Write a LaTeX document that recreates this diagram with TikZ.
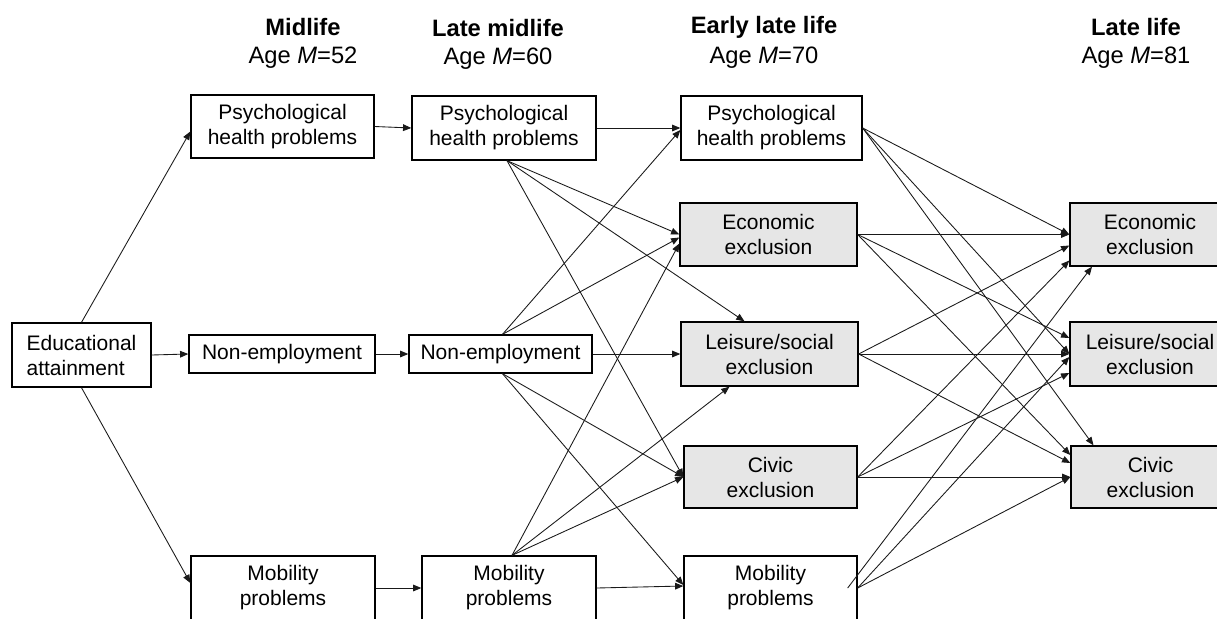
\documentclass[tikz,border=0pt]{standalone}
\usepackage{fontspec}
\setmainfont{Liberation Sans}
\usetikzlibrary{arrows.meta,calc}
\definecolor{boxgray}{RGB}{230,230,230}
\newcommand\boxfont{\fontsize{15.75}{18.75}\selectfont}
\newcommand\hdrfont{\fontsize{17.8}{21}\selectfont}
\begin{document}
\begin{tikzpicture}[x=0.75pt,y=-0.75pt,
  box/.style={draw=black, line width=1pt, fill=white, inner sep=0pt, align=center, font=\boxfont},
  gbox/.style={box, fill=boxgray},
  hdr/.style={inner sep=0pt, font=\hdrfont},
  conn/.style={draw=black!90, line width=0.65pt, -{Triangle[length=6.2pt,width=5pt]}}]
\useasboundingbox (0,0) rectangle (1217,618);
\clip (0,0) rectangle (1217,618);
\fill[white] (0,0) rectangle (1217,618);

% headers
\node[hdr] (h1) at (303,27) {\bfseries Midlife};
\node[hdr] (a1) at (303,58) {Age \textit{M}=52};
\node[hdr] (h2) at (498,28) {\bfseries Late midlife};
\node[hdr] (a2) at (498,59) {Age \textit{M}=60};
\node[hdr] (h3) at (764,27) {\bfseries Early late life};
\node[hdr] (a3) at (764,58) {Age \textit{M}=70};
\node[hdr] (h4) at (1136,27) {\bfseries Late life};
\node[hdr] (a4) at (1136,58) {Age \textit{M}=81};

% column 0
\node[box, align=left, minimum width=104.25pt, minimum height=48pt] (ea) at (81.5,355) {Educational\\attainment};
% column 1
\node[box, minimum width=137.25pt, minimum height=47.25pt] (psych1) at (282.5,126.5) {Psychological\\health problems};
\node[box, minimum width=139.5pt, minimum height=28.5pt] (ne1) at (282,354) {Non-employment};
\node[box, minimum width=138pt, minimum height=48pt] (mob1) at (283,588) {Mobility\\problems};
% column 2
\node[box, minimum width=138pt, minimum height=48pt] (psych2) at (504,128) {Psychological\\health problems};
\node[box, minimum width=137.25pt, minimum height=28.5pt] (ne2) at (500.5,354) {Non-employment};
\node[box, minimum width=130.5pt, minimum height=48pt] (mob2) at (509,588) {Mobility\\problems};
% column 3
\node[box, minimum width=135.75pt, minimum height=48pt] (psych3) at (771.5,128) {Psychological\\health problems};
\node[gbox, minimum width=132.75pt, minimum height=47.25pt] (econ3) at (768.5,234.5) {Economic\\exclusion};
\node[gbox, minimum width=132.75pt, minimum height=48pt] (leis3) at (769.5,354) {Leisure/social\\exclusion};
\node[gbox, minimum width=129.75pt, minimum height=46.5pt] (civic3) at (770.5,477) {Civic\\exclusion};
\node[box, minimum width=129.75pt, minimum height=48pt] (mob3) at (770.5,588) {Mobility\\problems};
% column 4
\node[gbox, minimum width=120pt, minimum height=47.25pt] (econ4) at (1150,234.5) {Economic\\exclusion};
\node[gbox, minimum width=120pt, minimum height=48pt] (leis4) at (1150,354) {Leisure/social\\exclusion};
\node[gbox, minimum width=119.25pt, minimum height=46.5pt] (civic4) at (1150.5,477) {Civic\\exclusion};

% helper points
\coordinate (p2s) at ($(psych2.south)+(3,0)$);
\coordinate (n2n) at ($(ne2.north)+(2,0)$);
\coordinate (n2s) at ($(ne2.south)+(2,0)$);
\coordinate (m2n) at ($(mob2.north)+(3,0)$);
\coordinate (m3in) at ($(mob3.east)+(-10,0)$);

% column 0 -> 1
\draw[conn] (ea.north) -- ($(psych1.west)+(0,5)$);
\draw[conn] (ea.east) -- (ne1.west);
\draw[conn] (ea.south) -- ($(mob1.west)+(0,-5)$);
% column 1 -> 2
\draw[conn] (psych1.east) -- (psych2.west);
\draw[conn] (ne1.east) -- (ne2.west);
\draw[conn] (mob1.east) -- (mob2.west);
% column 2 -> 3
\draw[conn] (psych2.east) -- (psych3.west);
\draw[conn] (p2s) -- (econ3.west);
\draw[conn] (p2s) -- ($(leis3.north)+(-25,0)$);
\draw[conn] (p2s) -- (civic3.west);
\draw[conn] (n2n) -- ($(psych3.west)+(0,2)$);
\draw[conn] (n2n) -- ($(econ3.west)+(0,3)$);
\draw[conn] (ne2.east) -- (leis3.west);
\draw[conn] (n2s) -- (civic3.west);
\draw[conn] (n2s) -- ($(mob3.west)+(0,-3)$);
\draw[conn] (m2n) -- ($(econ3.west)+(0,9)$);
\draw[conn] (m2n) -- ($(leis3.south)+(-40,0)$);
\draw[conn] (m2n) -- (civic3.west);
\draw[conn] (mob2.east) -- ($(mob3.west)+(0,-2)$);
% column 3 -> 4
\draw[conn] (psych3.east) -- (econ4.west);
\draw[conn] (psych3.east) -- (leis4.west);
\draw[conn] (psych3.east) -- ($(civic4.north)+(-57,0)$);
\draw[conn] (econ3.east) -- (econ4.west);
\draw[conn] (econ3.east) -- ($(leis4.west)+(0,-16)$);
\draw[conn] (econ3.east) -- ($(civic4.west)+(0,-22)$);
\draw[conn] (leis3.east) -- ($(econ4.west)+(0,11)$);
\draw[conn] (leis3.east) -- (leis4.west);
\draw[conn] (leis3.east) -- ($(civic4.west)+(0,-14)$);
\draw[conn] (civic3.east) -- ($(econ4.west)+(0,26)$);
\draw[conn] (civic3.east) -- ($(leis4.west)+(0,19)$);
\draw[conn] (civic3.east) -- (civic4.west);
\draw[conn] (mob3.east) -- ($(leis4.west)+(0,3)$);
\draw[conn] (mob3.east) -- (civic4.west);
\draw[conn] (m3in) -- ($(econ4.south)+(-58,0)$);
\end{tikzpicture}
\end{document}
